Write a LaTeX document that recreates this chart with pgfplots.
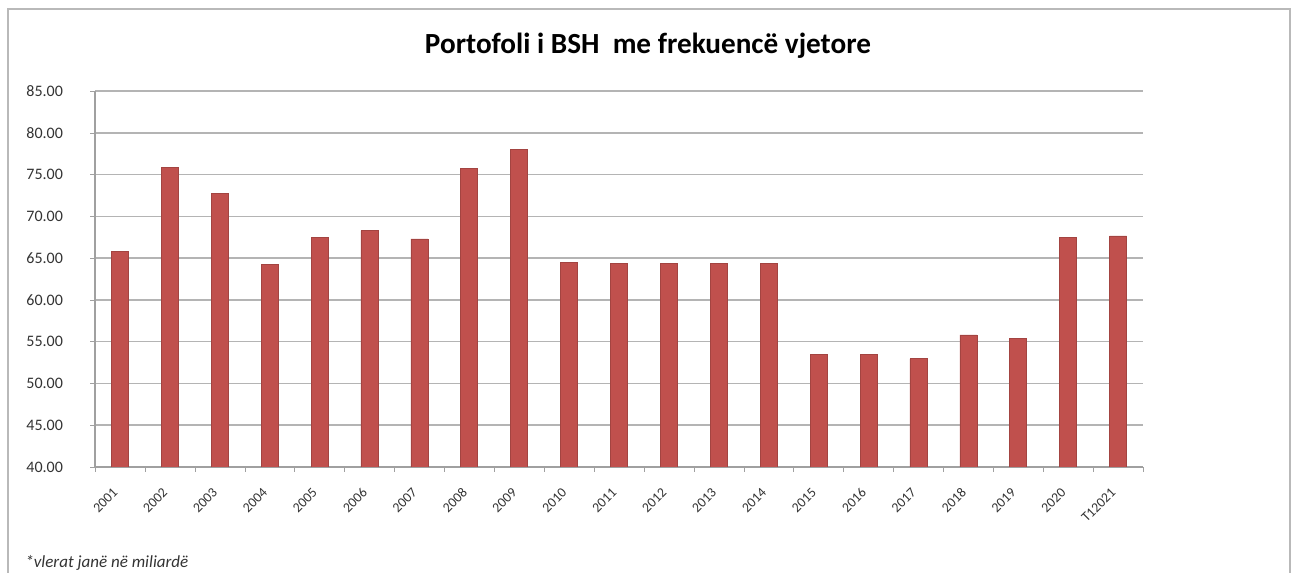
\documentclass[border=0pt]{standalone}
\usepackage{fontspec}
\setmainfont{Carlito}
\usepackage{pgfplots}
\pgfplotsset{compat=1.18}
\definecolor{barred}{HTML}{C0504D}
\definecolor{gridgray}{HTML}{B4B4B4}
\definecolor{axgray}{HTML}{A0A0A0}
\definecolor{txtgray}{HTML}{333333}
\begin{document}
\begin{tikzpicture}
\useasboundingbox (0,0) rectangle (646pt,286.5pt);
\draw[gray!55, line width=1.2pt] (4pt,-2pt) -- (4pt,282pt) -- (645pt,282pt) -- (645pt,-2pt);
\node[font=\fontsize{14.6}{17}\selectfont\bfseries] at (324pt,263.5pt) {Portofoli i BSH~ me frekuencë vjetore};
\node[anchor=base west, inner sep=0pt, font=\fontsize{8.5}{9}\selectfont\itshape, text=txtgray] at (12.5pt,2.5pt) {*vlerat janë në miliardë};
\begin{axis}[
  at={(47.5pt,53pt)}, anchor=south west,
  scale only axis, width=524pt, height=188pt,
  ymin=40, ymax=85, ytick={40,45,...,85},
  xmin=-0.5, xmax=20.5,
  xtick={0,...,20},
  xticklabels={2001,2002,2003,2004,2005,2006,2007,2008,2009,2010,2011,2012,2013,2014,2015,2016,2017,2018,2019,2020,T12021},
  minor xtick={-0.5,0.5,...,20.5},
  major x tick style={draw=none},
  minor x tick style={axgray},
  minor tick length=2.5pt,
  major tick length=2.5pt,
  tick align=outside,
  ytick style={axgray},
  axis x line*=bottom, axis y line*=left,
  axis line style={axgray, line width=0.7pt},
  ymajorgrids, grid style={gridgray, line width=0.8pt},
  /pgf/number format/assume math mode=true,
  y tick label style={/pgf/number format/fixed, /pgf/number format/fixed zerofill, /pgf/number format/precision=2},
  yticklabel style={font=\fontsize{8}{9}\selectfont, text=txtgray, xshift=-10pt},
  xticklabel style={font=\fontsize{6.9}{8}\selectfont, text=txtgray, xshift=-4pt, yshift=-6.5pt, rotate=45, anchor=north east, inner sep=0.5pt},
  ybar, bar width=8.5pt,
  clip=true,
]
\addplot[fill=barred, draw=barred!85!black, line width=0.3pt] coordinates {
(0,65.8) (1,75.85) (2,72.7) (3,64.25) (4,67.45) (5,68.3) (6,67.3) (7,75.7) (8,78.05)
(9,64.5) (10,64.4) (11,64.4) (12,64.4) (13,64.4) (14,53.5) (15,53.5) (16,52.95)
(17,55.8) (18,55.4) (19,67.5) (20,67.65)
};
\end{axis}
\end{tikzpicture}
\end{document}
